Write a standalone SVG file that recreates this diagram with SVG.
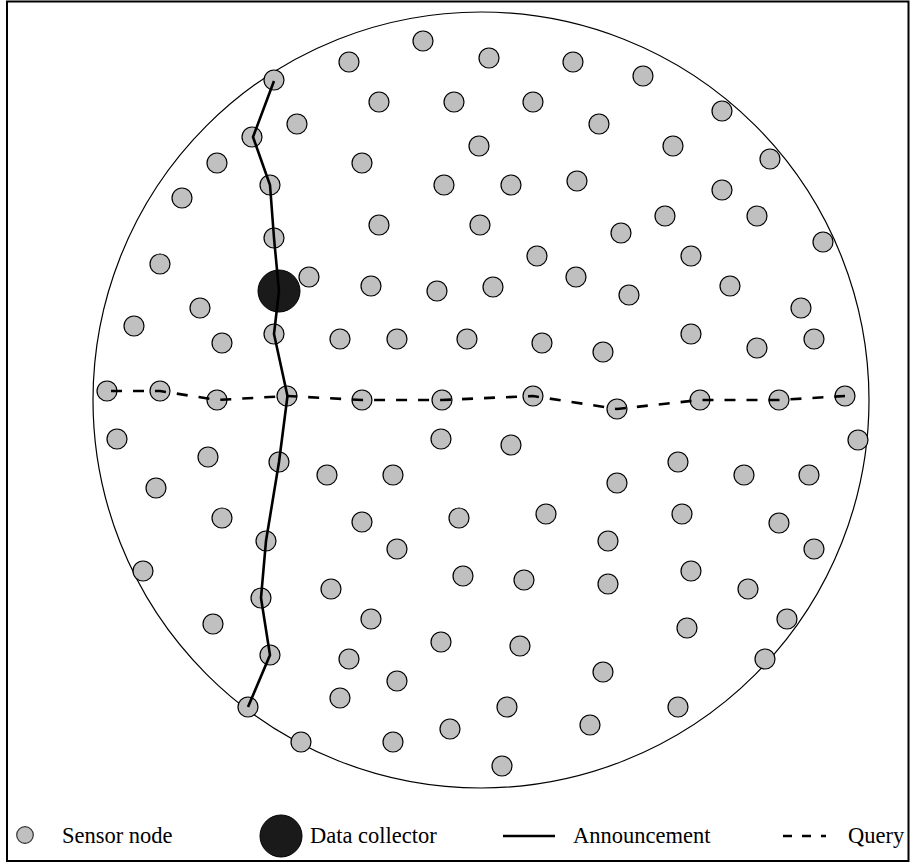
<svg xmlns="http://www.w3.org/2000/svg" width="910" height="863" viewBox="0 0 910 863">
<style>
.n{fill:#c0c0c0;stroke:#000;stroke-width:1.2}
.dc{fill:#1a1a1a;stroke:#000;stroke-width:1}
.ann{fill:none;stroke:#000;stroke-width:2.6;stroke-linejoin:miter}
.qry{fill:none;stroke:#000;stroke-width:2.6;stroke-dasharray:11 11}
.t{font-family:"Liberation Serif","Times New Roman",serif;font-size:22.5px;fill:#000}
</style>
<rect x="7" y="1.5" width="901.5" height="859.5" fill="#fff" stroke="#000" stroke-width="2"/>
<circle cx="481" cy="400" r="388" fill="none" stroke="#000" stroke-width="1.2"/>
<g id="nodes">
<circle class="n" cx="274" cy="80" r="10"/>
<circle class="n" cx="349" cy="62" r="10"/>
<circle class="n" cx="297" cy="124" r="10"/>
<circle class="n" cx="252" cy="137" r="10"/>
<circle class="n" cx="217" cy="163" r="10"/>
<circle class="n" cx="270" cy="185" r="10"/>
<circle class="n" cx="182" cy="198" r="10"/>
<circle class="n" cx="274" cy="238" r="10"/>
<circle class="n" cx="160" cy="264" r="10"/>
<circle class="n" cx="309" cy="277" r="10"/>
<circle class="n" cx="362" cy="163" r="10"/>
<circle class="n" cx="423" cy="41" r="10"/>
<circle class="n" cx="489" cy="58" r="10"/>
<circle class="n" cx="573" cy="62" r="10"/>
<circle class="n" cx="643" cy="76" r="10"/>
<circle class="n" cx="379" cy="102" r="10"/>
<circle class="n" cx="454" cy="102" r="10"/>
<circle class="n" cx="533" cy="102" r="10"/>
<circle class="n" cx="599" cy="124" r="10"/>
<circle class="n" cx="479" cy="146" r="10"/>
<circle class="n" cx="444" cy="185" r="10"/>
<circle class="n" cx="511" cy="185" r="10"/>
<circle class="n" cx="577" cy="181" r="10"/>
<circle class="n" cx="379" cy="225" r="10"/>
<circle class="n" cx="480" cy="225" r="10"/>
<circle class="n" cx="621" cy="233" r="10"/>
<circle class="n" cx="537" cy="256" r="10"/>
<circle class="n" cx="576" cy="277" r="10"/>
<circle class="n" cx="371" cy="286" r="10"/>
<circle class="n" cx="493" cy="287" r="10"/>
<circle class="n" cx="722" cy="111" r="10"/>
<circle class="n" cx="673" cy="146" r="10"/>
<circle class="n" cx="770" cy="159" r="10"/>
<circle class="n" cx="722" cy="190" r="10"/>
<circle class="n" cx="665" cy="216" r="10"/>
<circle class="n" cx="757" cy="216" r="10"/>
<circle class="n" cx="823" cy="242" r="10"/>
<circle class="n" cx="691" cy="256" r="10"/>
<circle class="n" cx="730" cy="286" r="10"/>
<circle class="n" cx="200" cy="308" r="10"/>
<circle class="n" cx="134" cy="326" r="10"/>
<circle class="n" cx="222" cy="343" r="10"/>
<circle class="n" cx="274" cy="334" r="10"/>
<circle class="n" cx="340" cy="339" r="10"/>
<circle class="n" cx="107" cy="391" r="10"/>
<circle class="n" cx="160" cy="391" r="10"/>
<circle class="n" cx="217" cy="400" r="10"/>
<circle class="n" cx="287" cy="396" r="10"/>
<circle class="n" cx="362" cy="400" r="10"/>
<circle class="n" cx="117" cy="439" r="10"/>
<circle class="n" cx="208" cy="457" r="10"/>
<circle class="n" cx="279" cy="462" r="10"/>
<circle class="n" cx="327" cy="475" r="10"/>
<circle class="n" cx="156" cy="488" r="10"/>
<circle class="n" cx="222" cy="518" r="10"/>
<circle class="n" cx="362" cy="522" r="10"/>
<circle class="n" cx="437" cy="291" r="10"/>
<circle class="n" cx="629" cy="295" r="10"/>
<circle class="n" cx="397" cy="339" r="10"/>
<circle class="n" cx="467" cy="339" r="10"/>
<circle class="n" cx="542" cy="343" r="10"/>
<circle class="n" cx="603" cy="352" r="10"/>
<circle class="n" cx="442" cy="400" r="10"/>
<circle class="n" cx="533" cy="396" r="10"/>
<circle class="n" cx="617" cy="409" r="10"/>
<circle class="n" cx="441" cy="439" r="10"/>
<circle class="n" cx="511" cy="445" r="10"/>
<circle class="n" cx="393" cy="475" r="10"/>
<circle class="n" cx="617" cy="483" r="10"/>
<circle class="n" cx="459" cy="518" r="10"/>
<circle class="n" cx="546" cy="514" r="10"/>
<circle class="n" cx="801" cy="308" r="10"/>
<circle class="n" cx="691" cy="334" r="10"/>
<circle class="n" cx="757" cy="348" r="10"/>
<circle class="n" cx="814" cy="339" r="10"/>
<circle class="n" cx="700" cy="400" r="10"/>
<circle class="n" cx="779" cy="400" r="10"/>
<circle class="n" cx="845" cy="396" r="10"/>
<circle class="n" cx="858" cy="440" r="10"/>
<circle class="n" cx="678" cy="462" r="10"/>
<circle class="n" cx="744" cy="475" r="10"/>
<circle class="n" cx="809" cy="475" r="10"/>
<circle class="n" cx="682" cy="514" r="10"/>
<circle class="n" cx="779" cy="523" r="10"/>
<circle class="n" cx="266" cy="541" r="10"/>
<circle class="n" cx="143" cy="571" r="10"/>
<circle class="n" cx="261" cy="598" r="10"/>
<circle class="n" cx="331" cy="589" r="10"/>
<circle class="n" cx="213" cy="624" r="10"/>
<circle class="n" cx="270" cy="655" r="10"/>
<circle class="n" cx="349" cy="659" r="10"/>
<circle class="n" cx="340" cy="698" r="10"/>
<circle class="n" cx="248" cy="707" r="10"/>
<circle class="n" cx="301" cy="742" r="10"/>
<circle class="n" cx="397" cy="549" r="10"/>
<circle class="n" cx="608" cy="541" r="10"/>
<circle class="n" cx="463" cy="576" r="10"/>
<circle class="n" cx="524" cy="580" r="10"/>
<circle class="n" cx="608" cy="584" r="10"/>
<circle class="n" cx="371" cy="619" r="10"/>
<circle class="n" cx="441" cy="642" r="10"/>
<circle class="n" cx="520" cy="646" r="10"/>
<circle class="n" cx="603" cy="672" r="10"/>
<circle class="n" cx="397" cy="681" r="10"/>
<circle class="n" cx="507" cy="707" r="10"/>
<circle class="n" cx="590" cy="725" r="10"/>
<circle class="n" cx="393" cy="742" r="10"/>
<circle class="n" cx="450" cy="729" r="10"/>
<circle class="n" cx="502" cy="766" r="10"/>
<circle class="n" cx="814" cy="549" r="10"/>
<circle class="n" cx="691" cy="571" r="10"/>
<circle class="n" cx="748" cy="589" r="10"/>
<circle class="n" cx="687" cy="628" r="10"/>
<circle class="n" cx="787" cy="619" r="10"/>
<circle class="n" cx="765" cy="659" r="10"/>
<circle class="n" cx="678" cy="707" r="10"/>
</g>
<g id="collector">
<circle class="dc" cx="279" cy="291" r="21"/>
</g>
<g id="connectors">
<polyline class="ann" points="274,81 253,137 270,185 274,238 279,291 274,334 287.5,396 279,462 266,541 261,598 270,655 248,707"/>
<polyline class="qry" points="111,391 160,391 217,400 287,396 362,400 442,400 533,396 617,409 700,400 779,400 845,396"/>
</g>
<g id="legend">
<circle cx="25" cy="835" r="8.3" fill="#c0c0c0" stroke="#333" stroke-width="1.2"/>
<text class="t" x="62" y="843">Sensor node</text>
<circle class="dc" cx="281" cy="836" r="21"/>
<text class="t" x="310" y="843">Data collector</text>
<line x1="503" y1="836" x2="555" y2="836" stroke="#000" stroke-width="2.6"/>
<text class="t" x="573" y="843">Announcement</text>
<line x1="783" y1="836" x2="826" y2="836" stroke="#000" stroke-width="2.6" stroke-dasharray="9 10"/>
<text class="t" x="848" y="843">Query</text>
</g>
</svg>
